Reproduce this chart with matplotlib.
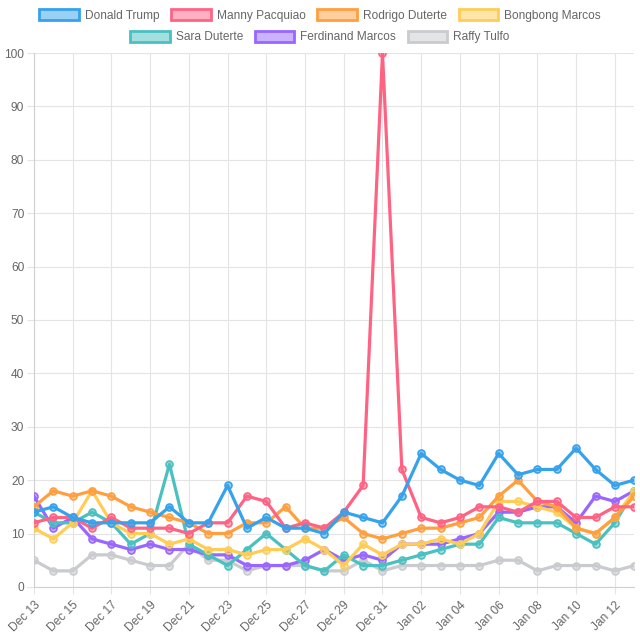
import matplotlib.pyplot as plt
from matplotlib.patches import Patch

# date labels (one per day)
dates = (["Dec %02d" % d for d in range(13, 32)] +
         ["Jan %02d" % d for d in range(1, 14)])

trump = [14, 15, 13, 12, 12, 12, 12, 15, 12, 12, 19, 11, 13, 11, 11, 10, 14, 13, 12, 17,
         25, 22, 20, 19, 25, 21, 22, 22, 26, 22, 19, 20]
pacquiao = [12, 13, 13, 11, 13, 11, 11, 11, 10, 12, 12, 17, 16, 11, 12, 11, 14, 19, 100, 22,
            13, 12, 13, 15, 15, 14, 16, 16, 13, 13, 15, 15]
rodrigo = [15, 18, 17, 18, 17, 15, 14, 13, 12, 10, 10, 12, 12, 15, 11, 11, 13, 10, 9, 10,
           11, 11, 12, 13, 17, 20, 16, 15, 11, 10, 13, 17]
bongbong = [11, 9, 12, 18, 12, 10, 10, 8, 9, 7, 7, 6, 7, 7, 9, 7, 4, 8, 6, 8,
            8, 9, 8, 10, 16, 16, 15, 14, 11, 10, 13, 18]
sara = [14, 12, 12, 14, 12, 8, 10, 23, 8, 6, 4, 7, 10, 7, 4, 3, 6, 4, 4, 5,
        6, 7, 8, 8, 13, 12, 12, 12, 10, 8, 12, 18]
ferdinand = [17, 11, 13, 9, 8, 7, 8, 7, 7, 6, 6, 4, 4, 4, 5, 7, 5, 6, 5, 8,
             8, 8, 9, 10, 14, 14, 15, 15, 12, 17, 16, 18]
tulfo = [5, 3, 3, 6, 6, 5, 4, 4, 8, 5, 5, 3, 4, 4, 4, 3, 3, 5, 3, 4,
         4, 4, 4, 4, 5, 5, 3, 4, 4, 4, 3, 4]

names = ["Donald Trump", "Manny Pacquiao", "Rodrigo Duterte", "Bongbong Marcos",
         "Sara Duterte", "Ferdinand Marcos", "Raffy Tulfo"]
series = [trump, pacquiao, rodrigo, bongbong, sara, ferdinand, tulfo]
colors = [(54, 162, 235), (255, 99, 132), (255, 159, 64), (255, 205, 86),
          (75, 192, 192), (153, 102, 255), (201, 203, 207)]
colors = [tuple(c / 255 for c in rgb) for rgb in colors]

plt.rcParams['font.family'] = ['Liberation Sans', 'DejaVu Sans']

fig = plt.figure(figsize=(6.4, 6.4), dpi=100)
ax = fig.add_axes([0.053, 0.083, 0.938, 0.834])

x = list(range(len(dates)))
for i, (name, vals, col) in enumerate(zip(names, series, colors)):
    ax.plot(x, vals, color=col, lw=2.3, marker='o', ms=5,
            mfc=col + (0.5,), mec=col, mew=1.2, zorder=10 - i)

ax.set_xlim(0, len(dates) - 1)
ax.set_ylim(0, 100)
ax.set_yticks(range(0, 101, 10))
ax.set_xticks(x[::2])
ax.set_xticklabels(dates[::2], rotation=45, ha='right', rotation_mode='anchor')
ax.tick_params(colors='#666666', labelsize=8.6, length=5, width=0.8, pad=2)
ax.tick_params(axis='both', color='#e4e4e4')
ax.tick_params(axis='x', pad=4)
ax.grid(True, color='#e4e4e4', lw=0.8)
ax.set_axisbelow(True)
for s in ax.spines.values():
    s.set_visible(False)
ax.spines['left'].set_visible(True)
ax.spines['bottom'].set_visible(True)
ax.spines['left'].set_color('#d0d0d0')
ax.spines['bottom'].set_color('#d0d0d0')

handles = [Patch(facecolor=c + (0.5,), edgecolor=c, lw=2) for c in colors]
kw = dict(frameon=False, fontsize=8.6, handlelength=3.3, handleheight=1.0,
          handletextpad=0.5, columnspacing=1.0, labelcolor='#666666')
fig.legend(handles[:4], names[:4], loc='center', ncol=4,
           bbox_to_anchor=(0.5, 0.976), **kw)
fig.legend(handles[4:], names[4:], loc='center', ncol=3,
           bbox_to_anchor=(0.5, 0.942), **kw)

fig.savefig("out.png", dpi=100)
